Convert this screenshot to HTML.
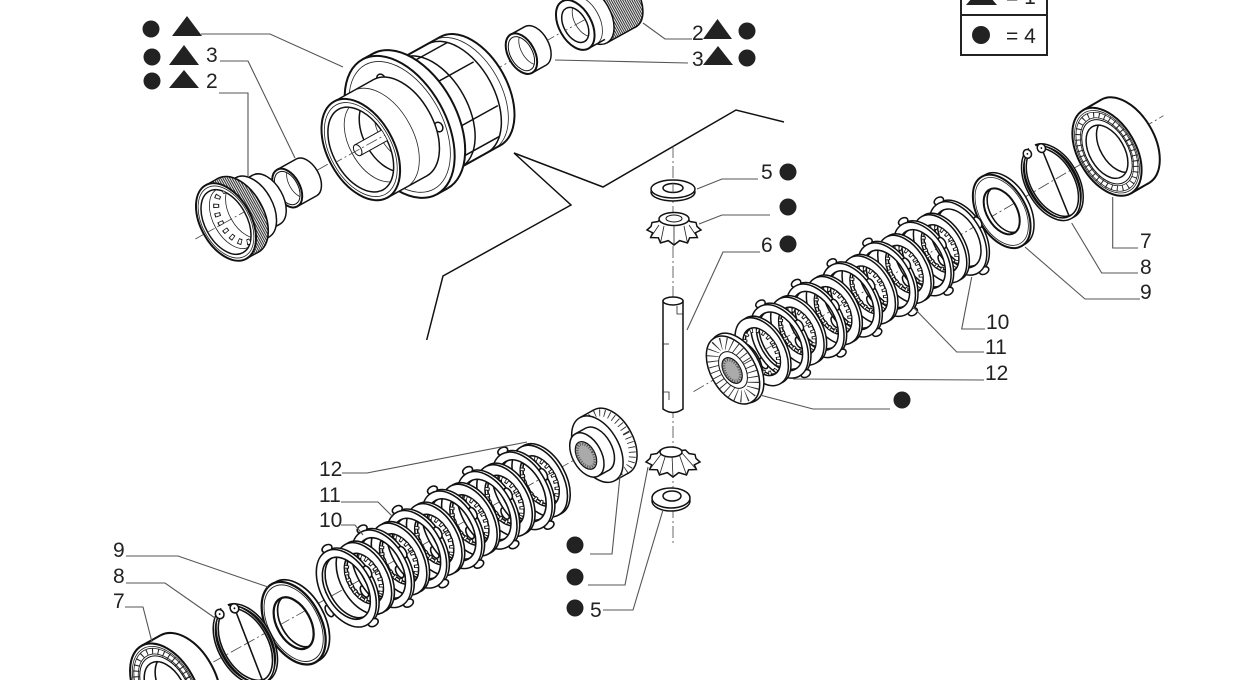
<!DOCTYPE html>
<html><head><meta charset="utf-8"><style>
html,body{margin:0;padding:0;background:#fff;width:1236px;height:680px;overflow:hidden;}
svg{display:block;overflow:hidden;}
.k{fill:#fff;stroke:#111;stroke-width:1.5}
.k2{fill:#fff;stroke:#111;stroke-width:2}
.k1{fill:#fff;stroke:#111;stroke-width:1}
.o{fill:none;stroke:#111;stroke-width:1.5}
.o2{fill:none;stroke:#111;stroke-width:2}
.t{fill:none;stroke:#222;stroke-width:0.8}
.ax{fill:none;stroke:#444;stroke-width:0.8;stroke-dasharray:12 3 2 3}
.ld{fill:none;stroke:#555;stroke-width:1.1}
.tx{font-family:"Liberation Sans",sans-serif;font-size:21px;fill:#222}
.dot{fill:#222}
</style></head><body>
<svg width="1236" height="680" viewBox="0 0 1236 680" xmlns="http://www.w3.org/2000/svg">
<rect width="1236" height="680" fill="#fff"/>
<defs>
<pattern id="thr" patternUnits="userSpaceOnUse" width="2" height="8"><rect width="2" height="8" fill="#fff"/><rect width="1.1" height="8" fill="#333"/></pattern>
<clipPath id="cH"><ellipse cx="153" cy="2" rx="27.6" ry="46"/></clipPath>
<clipPath id="cS"><ellipse cx="70" cy="0" rx="10.8" ry="18"/></clipPath>
<clipPath id="cT"><ellipse cx="0" cy="0" rx="21" ry="35"/></clipPath>
<clipPath id="cC"><ellipse cx="401" cy="-3" rx="11.4" ry="19"/></clipPath>
<clipPath id="cQ"><ellipse cx="340" cy="-4" rx="11" ry="18.5"/></clipPath>
<clipPath id="cbr"><ellipse cx="0" cy="0" rx="17.4" ry="29"/></clipPath>

<g id="dA">
 <path class="k" fill-rule="evenodd" d="M-21,0a24,40 0 1,0 48,0a24,40 0 1,0 -48,0Z M-16.2,0a19.2,32 0 1,0 38.4,0a19.2,32 0 1,0 -38.4,0Z"/>
 <ellipse class="k" cx="2.2" cy="-42" rx="5" ry="3.5"/>
 <ellipse class="k" cx="25.3" cy="-4" rx="3.2" ry="6"/>
 <ellipse class="k" cx="6.6" cy="41" rx="5" ry="3.5"/>
 <ellipse class="k" cx="-24.6" cy="11" rx="3.2" ry="6"/>
 <path class="k" fill-rule="evenodd" d="M-24,0a24,40 0 1,0 48,0a24,40 0 1,0 -48,0Z M-19.2,0a19.2,32 0 1,0 38.4,0a19.2,32 0 1,0 -38.4,0Z"/>
</g>
<g id="dB">
 <path class="k" fill-rule="evenodd" d="M-19.2,0a22.2,37 0 1,0 44.4,0a22.2,37 0 1,0 -44.4,0Z M-12.6,0a15.6,26 0 1,0 31.2,0a15.6,26 0 1,0 -31.2,0Z"/>
 <path class="k" fill-rule="evenodd" d="M-22.2,0a22.2,37 0 1,0 44.4,0a22.2,37 0 1,0 -44.4,0Z M-15.6,0a15.6,26 0 1,0 31.2,0a15.6,26 0 1,0 -31.2,0Z"/>
 <ellipse cx="0" cy="0" rx="14" ry="23.5" fill="none" stroke="#111" stroke-width="5" stroke-dasharray="3.2 3.2"/>
 <ellipse cx="0" cy="0" rx="14" ry="23.5" fill="none" stroke="#fff" stroke-width="3" stroke-dasharray="1.6 4.8" stroke-dashoffset="-0.8"/>
</g>
<g id="wsh">
 <path class="k" fill-rule="evenodd" d="M-20,0a24,40 0 1,0 48,0a24,40 0 1,0 -48,0Z M-11,0a15,25 0 1,0 30,0a15,25 0 1,0 -30,0Z"/>
 <path class="k2" fill-rule="evenodd" d="M-24,0a24,40 0 1,0 48,0a24,40 0 1,0 -48,0Z M-15,0a15,25 0 1,0 30,0a15,25 0 1,0 -30,0Z"/>
 <ellipse class="t" cx="0" cy="0" rx="22.2" ry="37"/>
</g>
<g id="snp">
 <path class="k" fill-rule="evenodd" d="M-21.6,0a24.6,41 0 1,0 49.2,0a24.6,41 0 1,0 -49.2,0Z M-19.8,0a22.8,38 0 1,0 45.6,0a22.8,38 0 1,0 -45.6,0Z"/>
 <path class="k" fill-rule="evenodd" d="M-24.6,0a24.6,41 0 1,0 49.2,0a24.6,41 0 1,0 -49.2,0Z M-22.8,0a22.8,38 0 1,0 45.6,0a22.8,38 0 1,0 -45.6,0Z"/>
 <rect x="-2" y="-45" width="7" height="10" fill="#fff"/>
 <line class="o" x1="9" y1="-34" x2="-1" y2="38"/>
 <ellipse class="k" cx="-6" cy="-37" rx="4" ry="4.5"/>
 <ellipse class="k" cx="9" cy="-35" rx="4" ry="4.5"/>
 <circle cx="-6" cy="-37" r="0.9" fill="#111"/>
 <circle cx="9" cy="-35" r="0.9" fill="#111"/>
</g>
<g id="brg">
 <ellipse class="k2" cx="21" cy="0" rx="28.8" ry="48"/>
 <rect x="0" y="-48" width="21" height="96" fill="#fff"/>
 <line class="o2" x1="0" y1="-48" x2="21" y2="-48"/><line class="o2" x1="0" y1="48" x2="21" y2="48"/>
 <ellipse class="k2" cx="0" cy="0" rx="28.8" ry="48"/>
 <ellipse class="t" cx="0" cy="0" rx="27" ry="45"/>
 <ellipse cx="0" cy="0" rx="24" ry="40" fill="none" stroke="#222" stroke-width="6" stroke-dasharray="1 4.5"/>
 <ellipse class="t" cx="0" cy="0" rx="25.8" ry="43"/>
 <ellipse class="t" cx="0" cy="0" rx="22.2" ry="37"/>
 <ellipse class="k1" cx="0" cy="0" rx="21" ry="35"/>
 <ellipse class="k" cx="0" cy="0" rx="17.4" ry="29"/>
 <path class="o" clip-path="url(#cbr)" d="M12,-29A17.4,29 0 0 0 12,29"/>
</g>
<g id="sgU">
 <ellipse class="k" cx="14" cy="0" rx="14.4" ry="24"/>
 <rect x="2" y="-24" width="12" height="48" fill="#fff"/>
 <line class="o" x1="2" y1="-24" x2="14" y2="-24"/><line class="o" x1="2" y1="24" x2="14" y2="24"/>
 <ellipse class="k" cx="4" cy="0" rx="22.8" ry="38"/>
 <ellipse class="k" cx="0" cy="0" rx="22.2" ry="37"/>
 <ellipse cx="0" cy="0" rx="16.5" ry="29" fill="none" stroke="#333" stroke-width="12" stroke-dasharray="0.9 4.4"/>
 <ellipse class="k1" cx="0" cy="0" rx="12" ry="20"/>
 <ellipse cx="-1" cy="0" rx="8.4" ry="14" fill="#aaa" stroke="#111" stroke-width="1.2"/>
 <ellipse cx="-1" cy="0" rx="7" ry="11.6" fill="none" stroke="#555" stroke-width="3" stroke-dasharray="1 1.5"/>
</g>
<g id="sgL">
 <ellipse class="k" cx="28" cy="0" rx="21.6" ry="36"/>
 <rect x="12" y="-36" width="16" height="72" fill="#fff"/>
 <line class="o" x1="12" y1="-36" x2="28" y2="-36"/><line class="o" x1="12" y1="36" x2="28" y2="36"/>
 <ellipse cx="26" cy="0" rx="19" ry="32" fill="none" stroke="#333" stroke-width="7" stroke-dasharray="0.9 4"/>
 <ellipse class="k" cx="12" cy="0" rx="21.6" ry="36"/>
 <ellipse class="k" cx="12" cy="0" rx="14.4" ry="24"/>
 <rect x="0" y="-24" width="12" height="48" fill="#fff"/>
 <line class="o" x1="0" y1="-24" x2="12" y2="-24"/><line class="o" x1="0" y1="24" x2="12" y2="24"/>
 <ellipse class="k" cx="0" cy="0" rx="14.4" ry="24"/>
 <ellipse cx="-1" cy="0" rx="9" ry="15" fill="#aaa" stroke="#111" stroke-width="1.2"/>
 <ellipse cx="-1" cy="0" rx="7.5" ry="12.5" fill="none" stroke="#555" stroke-width="3" stroke-dasharray="1 1.5"/>
</g>
<path id="pin1" d="M647,230 L652.7,232.8 L650.6,237.5 L658.4,237.8 L660.5,243 L668.3,240.6 L674,245 L679.7,240.6 L687.5,243 L689.6,237.8 L697.4,237.5 L695.3,232.8 L701,230 L697,226.5 L696,222.5 L690,221.5 L686.5,218 L680,218.8 L674,216.5 L668,218.8 L661.5,218 L658,221.5 L652,222.5 L651,226.5 Z"/>
<pattern id="botpat" patternUnits="userSpaceOnUse" x="0" y="0" width="1236" height="680">
 <g transform="translate(244,645) rotate(-29)">
  <line class="ax" x1="-115" y1="0" x2="0" y2="0"/>
  <use href="#snp" transform="scale(1.05)"/>
  <use href="#brg" transform="translate(-90,1) scale(1.04)"/>
 </g>
</pattern>
</defs>

<!-- bracket -->
<polyline points="426.7,340 443,276 571,205 514,153 603,187 736,110 784,122" fill="none" stroke="#111" stroke-width="1.5"/>
<!-- vertical pinion axis -->
<line class="ax" x1="673" y1="146" x2="673" y2="546"/>

<!-- G1 housing assembly -->
<g transform="translate(226,222) rotate(-29)">
<line class="ax" x1="-35" y1="0" x2="485" y2="-4"/>
<!-- top cylinder -->
<ellipse cx="453" cy="-3" rx="18.6" ry="31" fill="url(#thr)" stroke="#111" stroke-width="1.6"/>
<rect x="420" y="-34" width="33" height="62" fill="url(#thr)"/>
<line class="o" x1="420" y1="-34" x2="453" y2="-34"/><line class="o" x1="420" y1="28" x2="453" y2="28"/>
<ellipse class="k" cx="420" cy="-3" rx="18.6" ry="31"/>
<rect x="401" y="-30" width="19" height="54" fill="#fff"/>
<line class="o" x1="401" y1="-30" x2="420" y2="-30"/><line class="o" x1="401" y1="24" x2="420" y2="24"/>
<path class="t" d="M410,-30A16.2,27 0 0 1 410,24"/>
<ellipse class="k2" cx="401" cy="-3" rx="16.2" ry="27"/>
<ellipse class="k" cx="401" cy="-3" rx="11.4" ry="19"/>
<g clip-path="url(#cC)"><path class="t" d="M413,-22A11.4,19 0 0 0 413,16"/><line class="ax" x1="380" y1="-3" x2="430" y2="-3"/></g>
<!-- small sleeve -->
<ellipse class="k" cx="356" cy="-4" rx="13.2" ry="22"/>
<rect x="340" y="-26" width="16" height="44" fill="#fff"/>
<line class="o" x1="340" y1="-26" x2="356" y2="-26"/><line class="o" x1="340" y1="18" x2="356" y2="18"/>
<ellipse class="k2" cx="340" cy="-4" rx="13.2" ry="22"/>
<ellipse class="k1" cx="340" cy="-4" rx="11" ry="18.5"/>
<g clip-path="url(#cQ)"><path class="t" d="M352,-22.5A11,18.5 0 0 0 352,14.5"/></g>
<!-- housing rear -->
<ellipse class="k2" cx="277" cy="4" rx="37.2" ry="62"/>
<rect x="212" y="-58" width="65" height="124" fill="#fff"/>
<line class="o2" x1="212" y1="-58" x2="277" y2="-58"/><line class="o2" x1="212" y1="66" x2="277" y2="66"/>
<path class="t" d="M270,-58A37.2,62 0 0 1 270,66"/>
<path class="o" d="M262,-58A37.2,62 0 0 1 262,66"/>
<path class="o" d="M232,-58A37.2,62 0 0 1 232,66"/>
<line class="o" x1="233.6" y1="-49.7" x2="280.6" y2="-49.7"/>
<line class="o" x1="247.2" y1="-20" x2="294.2" y2="-20"/>
<line class="o" x1="247.2" y1="30" x2="294.2" y2="30"/>
<line class="o" x1="233.6" y1="57.7" x2="280.6" y2="57.7"/>
<!-- flange -->
<ellipse class="k2" cx="210" cy="1" rx="46.2" ry="77"/>
<rect x="198" y="-76" width="12" height="154" fill="#fff"/>
<line class="o2" x1="198" y1="-76" x2="210" y2="-76"/><line class="o2" x1="198" y1="78" x2="210" y2="78"/>
<ellipse class="k2" cx="198" cy="1" rx="46.2" ry="77"/>
<ellipse class="t" cx="198" cy="1" rx="42.6" ry="71"/>
<ellipse class="k" cx="205" cy="-50" rx="4" ry="5"/>
<ellipse class="k" cx="232" cy="20" rx="4" ry="5"/>
<!-- front lip -->
<ellipse class="k" cx="198" cy="2" rx="33" ry="55"/>
<rect x="153" y="-53" width="45" height="110" fill="#fff"/>
<line class="o" x1="153" y1="-53" x2="198" y2="-53"/><line class="o" x1="153" y1="57" x2="198" y2="57"/>
<path class="t" d="M175,-53A33,55 0 0 1 175,57"/>
<ellipse class="k2" cx="153" cy="2" rx="33" ry="55"/>
<ellipse class="t" cx="153" cy="2" rx="30.6" ry="51"/>
<ellipse class="k" cx="153" cy="2" rx="27.6" ry="46"/>
<g clip-path="url(#cH)">
 <path class="t" d="M170,-42A26.4,44 0 0 0 170,46"/>
 <path class="o" d="M185,-39A25,41 0 0 0 185,43"/>
 <path class="t" d="M200,-36A24,38 0 0 0 200,40"/>
 <rect x="150" y="-5" width="70" height="12" fill="#fff" stroke="#111" stroke-width="1"/>
 <ellipse class="k1" cx="150" cy="1" rx="3.6" ry="6"/>
 <line class="ax" x1="120" y1="1" x2="230" y2="1"/>
</g>
<!-- sleeve -->
<ellipse class="k" cx="92" cy="0" rx="12.6" ry="21"/>
<rect x="70" y="-21" width="22" height="42" fill="#fff"/>
<line class="o" x1="70" y1="-21" x2="92" y2="-21"/><line class="o" x1="70" y1="21" x2="92" y2="21"/>
<ellipse class="k2" cx="70" cy="0" rx="12.6" ry="21"/>
<ellipse class="k1" cx="70" cy="0" rx="10.8" ry="18"/>
<g clip-path="url(#cS)"><path class="t" d="M84,-18A10.8,18 0 0 0 84,18"/></g>
<!-- threaded ring -->
<ellipse class="k" cx="46" cy="0" rx="16.8" ry="28"/>
<rect x="30" y="-28" width="16" height="56" fill="#fff"/>
<line class="o" x1="30" y1="-28" x2="46" y2="-28"/><line class="o" x1="30" y1="28" x2="46" y2="28"/>
<ellipse class="k" cx="30" cy="0" rx="20.4" ry="34"/>
<rect x="16" y="-34" width="14" height="68" fill="#fff"/>
<line class="o" x1="16" y1="-34" x2="30" y2="-34"/><line class="o" x1="16" y1="34" x2="30" y2="34"/>
<ellipse cx="14" cy="0" rx="25.2" ry="42" fill="url(#thr)" stroke="#111" stroke-width="1.6"/>
<rect x="0" y="-42" width="14" height="84" fill="url(#thr)"/>
<line class="o" x1="0" y1="-42" x2="14" y2="-42"/><line class="o" x1="0" y1="42" x2="14" y2="42"/>
<ellipse class="k2" cx="0" cy="0" rx="25.2" ry="42"/>
<ellipse class="t" cx="0" cy="0" rx="23.4" ry="39"/>
<ellipse class="k" cx="0" cy="0" rx="21" ry="35"/>
<g clip-path="url(#cT)">
 <path class="t" d="M8,-33A19.8,33 0 0 0 8,33"/>
 <path class="t" d="M24,-30A18,30 0 0 0 24,30"/>
 <ellipse cx="12" cy="0" rx="17" ry="28.5" fill="none" stroke="#111" stroke-width="6" stroke-dasharray="4 5"/>
 <ellipse cx="12" cy="0" rx="17" ry="28.5" fill="none" stroke="#fff" stroke-width="4" stroke-dasharray="2.4 6.6" stroke-dashoffset="-0.8"/>
 <line class="ax" x1="-25" y1="0" x2="40" y2="0"/>
</g>
</g>

<!-- G2 upper right stack -->
<g transform="translate(733,370) rotate(-30)">
<line class="ax" x1="-45" y1="-1" x2="500" y2="-5"/>
<use href="#brg" transform="translate(433,-2)"/>
<use href="#snp" transform="translate(369,-3)"/>
<use href="#wsh" transform="translate(312,-3)"/>
<use href="#dA" transform="translate(260.6,-1.5)"/>
<use href="#dB" transform="translate(240,-1.5)"/>
<use href="#dA" transform="translate(219.4,-1.5)"/>
<use href="#dB" transform="translate(198.8,-1.5)"/>
<use href="#dA" transform="translate(178.2,-1.5)"/>
<use href="#dB" transform="translate(157.6,-1.5)"/>
<use href="#dA" transform="translate(137,-1.5)"/>
<use href="#dB" transform="translate(116.4,-1.5)"/>
<use href="#dA" transform="translate(95.8,-1.5)"/>
<use href="#dB" transform="translate(75.2,-1.5)"/>
<use href="#dA" transform="translate(54.6,-1.5)"/>
<use href="#dB" transform="translate(34,-1.5)"/>
<use href="#sgU"/>
</g>

<!-- G3 lower stack -->
<g transform="translate(244,645) rotate(-29)">
<line class="ax" x1="0" y1="0" x2="440" y2="-2"/>
<use href="#sgL" transform="translate(392,0)"/>
<use href="#dB" transform="translate(338.1,0) scale(1.05)"/>
<use href="#dA" transform="translate(318,0) scale(1.05)"/>
<use href="#dB" transform="translate(297.9,0) scale(1.05)"/>
<use href="#dA" transform="translate(277.8,0) scale(1.05)"/>
<use href="#dB" transform="translate(257.7,0) scale(1.05)"/>
<use href="#dA" transform="translate(237.6,0) scale(1.05)"/>
<use href="#dB" transform="translate(217.5,0) scale(1.05)"/>
<use href="#dA" transform="translate(197.4,0) scale(1.05)"/>
<use href="#dB" transform="translate(177.3,0) scale(1.05)"/>
<use href="#dA" transform="translate(157.2,0) scale(1.05)"/>
<use href="#dB" transform="translate(137.1,0) scale(1.05)"/>
<use href="#dA" transform="translate(117,0) scale(1.05)"/>
<use href="#wsh" transform="translate(54,5) scale(1.12)"/>
</g>
<!-- lower-left snap ring + bearing (cut at frame edge) -->
<rect x="100" y="590" width="200" height="90" fill="url(#botpat)"/>

<!-- pin -->
<path class="k" d="M663,301 L663,409 Q673,416 683,409 L683,301 Z"/>
<ellipse class="k" cx="673" cy="301" rx="10" ry="4"/>
<path class="t" d="M683,314 L677,314 L677,306"/>
<path class="t" d="M663,392 L669,392 L669,400"/>
<path class="t" d="M663,344 L669,344"/>

<!-- upper washer -->
<ellipse class="k" cx="673" cy="192" rx="22" ry="9"/>
<rect x="651" y="189" width="44" height="3" fill="#fff"/>
<ellipse class="k" cx="673" cy="189" rx="22" ry="9"/>
<ellipse class="k" cx="673" cy="188" rx="10" ry="4.5"/>
<line class="ax" x1="673" y1="183" x2="673" y2="193"/>
<!-- upper pinion -->
<use href="#pin1" class="k"/>
<g class="t">
<line x1="660.5" y1="243" x2="664" y2="226"/><line x1="674" y1="245" x2="674" y2="226"/>
<line x1="687.5" y1="243" x2="684" y2="226"/><line x1="650.6" y1="237.5" x2="659" y2="225"/>
<line x1="697.4" y1="237.5" x2="689" y2="225"/>
</g>
<ellipse class="k" cx="674" cy="219" rx="15" ry="6.5"/>
<ellipse class="k1" cx="674" cy="218.5" rx="8" ry="3.5"/>
<!-- lower pinion -->
<use href="#pin1" class="k" transform="translate(-1,232)"/>
<g class="t">
<line x1="659.5" y1="475" x2="666" y2="454"/><line x1="673" y1="477" x2="672" y2="455"/>
<line x1="686.5" y1="475" x2="679" y2="454"/><line x1="649.6" y1="469.5" x2="662" y2="453"/>
<line x1="696.4" y1="469.5" x2="682" y2="453"/>
</g>
<ellipse class="k" cx="671" cy="452" rx="11" ry="5"/>
<!-- lower washer -->
<ellipse class="k" cx="671" cy="501" rx="19" ry="10"/>
<rect x="652" y="498" width="38" height="3" fill="#fff"/>
<ellipse class="k" cx="671" cy="498" rx="19" ry="10"/>
<ellipse class="k" cx="672" cy="496" rx="9" ry="5"/>

<!-- leaders -->
<g class="ld">
<polyline points="201,34 270,34 343,67"/>
<polyline points="220,61 248,61 295,158"/>
<polyline points="219,93 248,93 248,176"/>
<polyline points="643,23 665,39 692,39"/>
<polyline points="555,60 688,63"/>
<polyline points="697,189 722,179 758,179"/>
<polyline points="699,224 722,215 770,215"/>
<polyline points="687,330 723,252 760,252"/>
<polyline points="1112.7,197 1112.7,248 1138,248"/>
<polyline points="1071.7,223 1101.7,273 1138,273"/>
<polyline points="1025,247 1085,299 1140,299"/>
<polyline points="971.7,277 961.7,329 985,329"/>
<polyline points="913,307 956.7,352 984,352"/>
<polyline points="793,379 984,380"/>
<polyline points="760,395 813,409 890,409"/>
<polyline points="342,473 367,473 527,442"/>
<polyline points="341,502 378,502 393,517"/>
<polyline points="341,525 355,525 363,535"/>
<polyline points="590,554 612,554 620,476"/>
<polyline points="588,585 625,585 648,467"/>
<polyline points="603,610 633,610 663,510"/>
<polyline points="126,556 178,556 268,587"/>
<polyline points="126,583 165,583 215,618"/>
<polyline points="125,607 143,607 152,642"/>
</g>

<!-- symbols -->
<g class="dot">
<circle cx="151" cy="29" r="8.5"/><circle cx="152" cy="57" r="8.5"/><circle cx="152" cy="81" r="8.5"/>
<circle cx="747" cy="31" r="8.5"/><circle cx="747" cy="58" r="8.5"/>
<circle cx="788" cy="172" r="8.5"/><circle cx="788" cy="207" r="8.5"/><circle cx="788" cy="244" r="8.5"/>
<circle cx="902" cy="400" r="8.5"/>
<circle cx="575" cy="545" r="8.5"/><circle cx="575" cy="577" r="8.5"/><circle cx="575" cy="608" r="8.5"/>
<circle cx="981" cy="35" r="9"/>
<polygon points="172,36 202,36 187,16"/>
<polygon points="169,65 199,65 184,45"/>
<polygon points="169,88 199,88 184,70"/>
<polygon points="703,39 732,39 717.5,19"/>
<polygon points="703,65 733,65 718,46"/>
<polygon points="966,5 997,5 992.7,0 970.3,0"/>
</g>

<!-- labels -->
<g class="tx">
<text x="206" y="62">3</text>
<text x="206" y="88">2</text>
<text x="692" y="40">2</text>
<text x="692" y="66">3</text>
<text x="761" y="179">5</text>
<text x="761" y="252">6</text>
<text x="1140" y="248">7</text>
<text x="1140" y="274">8</text>
<text x="1140" y="299">9</text>
<text x="986" y="329">10</text>
<text x="985" y="354">11</text>
<text x="985" y="380">12</text>
<text x="319" y="476">12</text>
<text x="319" y="502">11</text>
<text x="319" y="527">10</text>
<text x="113" y="557">9</text>
<text x="113" y="583">8</text>
<text x="113" y="608">7</text>
<text x="590" y="617">5</text>
<text x="1006" y="4">= 1</text>
<text x="1006" y="43">= 4</text>
</g>

<!-- legend box -->
<path d="M961,0 V55 H1047 V0 M961,15 H1047" fill="none" stroke="#222" stroke-width="2"/>
</svg>
</body></html>
